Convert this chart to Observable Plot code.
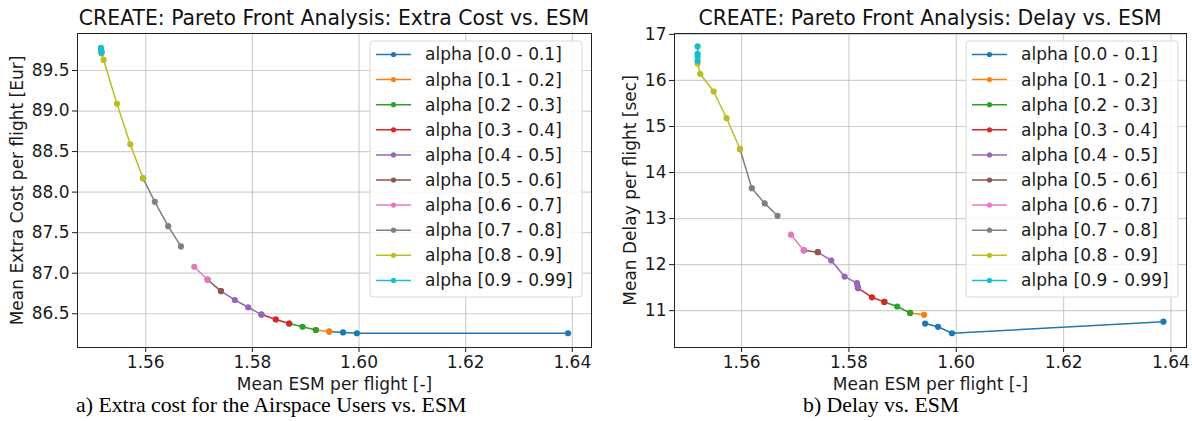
<!DOCTYPE html>
<html>
<head>
<meta charset="utf-8">
<script src="https://cdn.jsdelivr.net/npm/d3@7"></script>
<script src="https://cdn.jsdelivr.net/npm/@observablehq/plot@0.6"></script>
<style>
  html, body { margin: 0; padding: 0; background: #fff; }
  #wrap { position: relative; width: 1192px; height: 421px; background: #fff; overflow: hidden; }
  .pane { position: absolute; top: 0; }
  .title { position: absolute; font-family: "DejaVu Sans", sans-serif; font-size: 20.4px; color: #111; white-space: nowrap; transform: translateX(-50%); line-height: 1; }
  .caption { position: absolute; font-family: "Liberation Serif", "Times New Roman", serif; font-size: 21.8px; color: #000; white-space: nowrap; line-height: 1; }
  .legend { position: absolute; }
</style>
</head>
<body>
<div id="wrap">
  <div class="pane" id="c1" style="left:0px"></div>
  <div class="pane" id="c2" style="left:596px"></div>
</div>
<script>
// ---------- data ----------
const seriesLabels = [
  "alpha [0.0 - 0.1]", "alpha [0.1 - 0.2]", "alpha [0.2 - 0.3]", "alpha [0.3 - 0.4]",
  "alpha [0.4 - 0.5]", "alpha [0.5 - 0.6]", "alpha [0.6 - 0.7]", "alpha [0.7 - 0.8]",
  "alpha [0.8 - 0.9]", "alpha [0.9 - 0.99]"
];
const tab10 = ["#1f77b4", "#ff7f0e", "#2ca02c", "#d62728", "#9467bd",
               "#8c564b", "#e377c2", "#7f7f7f", "#bcbd22", "#17becf"];

const titles = [
  "CREATE: Pareto Front Analysis: Extra Cost vs. ESM",
  "CREATE: Pareto Front Analysis: Delay vs. ESM"
];
const captions = ["a) Extra cost for the Airspace Users vs. ESM", "b) Delay vs. ESM"];
const xLabel = "Mean ESM per flight [-]";
const yLabels = ["Mean Extra Cost per flight [Eur]", "Mean Delay per flight [sec]"];

const xTicks = [1.56, 1.58, 1.60, 1.62, 1.64];
const costTicks = [86.5, 87.0, 87.5, 88.0, 88.5, 89.0, 89.5];
const delayTicks = [11, 12, 13, 14, 15, 16, 17];

// Chart a) Extra cost vs ESM (one inner array per alpha bin)
const costESM = [
  [1.5944, 1.5970, 1.5996, 1.6392],
  [1.5919, 1.5944],
  [1.5869, 1.5894, 1.5919],
  [1.5817, 1.5844, 1.5869],
  [1.5741, 1.5767, 1.5792, 1.5817],
  [1.5716, 1.5741],
  [1.5691, 1.5716],
  [1.5595, 1.5617, 1.5642, 1.5666],
  [1.5517, 1.5521, 1.5546, 1.5571, 1.5595],
  [1.5516, 1.5516, 1.5517, 1.5517]
];
const costValue = [
  [86.28, 86.27, 86.26, 86.26],
  [86.30, 86.28],
  [86.38, 86.34, 86.30],
  [86.49, 86.43, 86.38],
  [86.78, 86.67, 86.58, 86.49],
  [86.92, 86.78],
  [87.08, 86.92],
  [88.17, 87.88, 87.58, 87.33],
  [89.71, 89.63, 89.09, 88.59, 88.17],
  [89.78, 89.76, 89.74, 89.72]
];

// Chart b) Delay vs ESM
const delayESM = [
  [1.5942, 1.5966, 1.5992, 1.6386],
  [1.5914, 1.5940],
  [1.5866, 1.5890, 1.5914],
  [1.5817, 1.5843, 1.5866],
  [1.5742, 1.5767, 1.5792, 1.5815, 1.5816, 1.5817],
  [1.5716, 1.5742],
  [1.5692, 1.5716],
  [1.5597, 1.5619, 1.5643, 1.5667],
  [1.5518, 1.5523, 1.5548, 1.5572, 1.5597],
  [1.5518, 1.5518, 1.5518, 1.5518]
];
const delayValue = [
  [10.72, 10.65, 10.51, 10.76],
  [10.95, 10.91],
  [11.19, 11.09, 10.95],
  [11.49, 11.29, 11.19],
  [12.27, 12.09, 11.74, 11.60, 11.54, 11.49],
  [12.31, 12.27],
  [12.65, 12.31],
  [14.51, 13.66, 13.33, 13.06],
  [16.37, 16.14, 15.76, 15.18, 14.51],
  [16.74, 16.58, 16.52, 16.43]
];

// ---------- build ----------
function toRows(xs, ys) {
  return xs.map((arr, i) => arr.map((x, j) => ({series: seriesLabels[i], x, y: ys[i][j]})));
}

function makeChart({xs, ys, xDomain, yDomain, yTicks, yFormat, yLabel, yLabelOffset, marginLeft, marginRight}) {
  const groups = toRows(xs, ys);
  const gridStyle = {stroke: "#b0b0b0", strokeOpacity: 0.6, strokeWidth: 1.2};
  return Plot.plot({
    width: 596,
    height: 400,
    marginLeft,
    marginRight,
    marginTop: 33,
    marginBottom: 53,
    style: {fontFamily: "DejaVu Sans", fontSize: "17px", color: "#1a1a1a", background: "transparent", overflow: "visible"},
    x: {domain: xDomain},
    y: {domain: yDomain},
    color: {domain: seriesLabels, range: tab10},
    marks: [
      Plot.gridX(xTicks, gridStyle),
      Plot.gridY(yTicks, gridStyle),
      Plot.axisX({ticks: xTicks, tickFormat: d3.format(".2f"), tickSize: 5, tickPadding: 3,
                  label: xLabel, labelAnchor: "center", labelArrow: "none", labelOffset: 42}),
      Plot.axisY({ticks: yTicks, tickFormat: yFormat, tickSize: 5, tickPadding: 3,
                  label: yLabel, labelAnchor: "center", labelArrow: "none", labelOffset: yLabelOffset}),
      ...groups.flatMap(rows => [
        Plot.line(rows, {x: "x", y: "y", stroke: "series", strokeWidth: 1.5}),
        Plot.dot(rows, {x: "x", y: "y", fill: "series", r: 3.1})
      ]),
      Plot.frame({stroke: "#222", strokeWidth: 1})
    ]
  });
}

const chartA = makeChart({
  xs: costESM, ys: costValue, xDomain: [1.5472, 1.6436], yDomain: [86.084, 89.956],
  yTicks: costTicks, yFormat: d3.format(".1f"), yLabel: yLabels[0], yLabelOffset: 67,
  marginLeft: 77, marginRight: 5
});
const chartB = makeChart({
  xs: delayESM, ys: delayValue, xDomain: [1.5475, 1.6429], yDomain: [10.20, 17.02],
  yTicks: delayTicks, yFormat: d3.format("d"), yLabel: yLabels[1], yLabelOffset: 51,
  marginLeft: 78, marginRight: 6
});
document.getElementById("c1").appendChild(chartA);
document.getElementById("c2").appendChild(chartB);

const wrap = d3.select("#wrap");

// titles (centered over each frame)
const titleCenters = [334, 930];
titles.forEach((t, i) => {
  wrap.append("div").attr("class", "title")
    .style("left", titleCenters[i] + "px").style("top", "8px").text(t);
});

// captions
const captionLefts = [76, 803];
captions.forEach((t, i) => {
  wrap.append("div").attr("class", "caption")
    .style("left", captionLefts[i] + "px").style("top", "395px").text(t);
});

// legends
const legendLefts = [370, 966];
legendLefts.forEach(left => {
  const W = 212, H = 256, rowH = 25.1;
  const svg = wrap.append("svg").attr("class", "legend")
    .attr("width", W + 2).attr("height", H + 2)
    .style("left", (left - 1) + "px").style("top", "40px");
  svg.append("rect").attr("x", 1).attr("y", 1).attr("width", W).attr("height", H)
    .attr("rx", 3).attr("fill", "#fff").attr("fill-opacity", 0.85)
    .attr("stroke", "#d9d9d9").attr("stroke-width", 1);
  seriesLabels.forEach((lab, i) => {
    const cy = 14.5 + i * rowH;
    svg.append("line").attr("x1", 7).attr("x2", 42).attr("y1", cy).attr("y2", cy)
      .attr("stroke", tab10[i]).attr("stroke-width", 1.5);
    svg.append("circle").attr("cx", 24.5).attr("cy", cy).attr("r", 2.6).attr("fill", tab10[i]);
    svg.append("text").attr("x", 56).attr("y", cy).attr("dy", "0.35em")
      .attr("font-family", "DejaVu Sans").attr("font-size", "17px").attr("fill", "#1a1a1a")
      .text(lab);
  });
});
</script>
</body>
</html>
